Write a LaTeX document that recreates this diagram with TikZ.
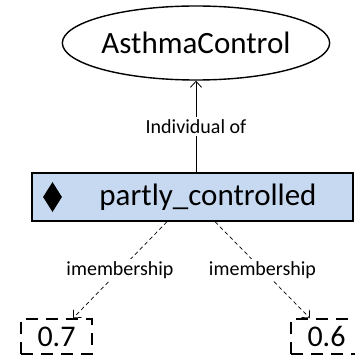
\documentclass[tikz,border=0pt]{standalone}
\usepackage{fontspec}
\setmainfont{Carlito}
\usetikzlibrary{arrows.meta,shapes.geometric,calc}
\definecolor{boxblue}{RGB}{198,217,241}
\tikzset{
  classnode/.style={draw, ellipse, line width=1.4pt, minimum width=220pt, minimum height=74pt, inner sep=0pt, font=\fontsize{31}{31}\selectfont},
  indivbox/.style={draw, fill=boxblue, line width=1.4pt, minimum width=321pt, minimum height=48pt, inner sep=0pt},
  bigtext/.style={inner sep=0pt, font=\fontsize{31}{31}\selectfont},
  valuebox/.style={draw, dash pattern=on 12pt off 8pt, line width=1.5pt, minimum width=71pt, minimum height=35pt, inner sep=0pt, font=\fontsize{30}{30}\selectfont},
  edgelabel/.style={fill=white, inner sep=2pt, font=\fontsize{20}{20}\selectfont},
  typearrow/.style={line width=0.8pt, -{Straight Barb[length=6pt,width=11pt]}},
  memberarrow/.style={line width=0.7pt, dash pattern=on 4pt off 3pt, -{Straight Barb[length=6pt,width=11pt]}}
}
\begin{document}
\begin{tikzpicture}[x=1pt,y=-1pt]
  \useasboundingbox (0,0) rectangle (354,358);
  % class and individual
  \node[classnode] (ac) at (196,43) {AsthmaControl};
  \node[indivbox] (pc) at (192.5,197) {};
  \node[bigtext] (pctext) at (208,197) {partly\_controlled};
  \node[diamond, fill=black, minimum width=19pt, minimum height=30pt, inner sep=0pt] (mark) at (52.5,197) {};
  % membership values
  \node[valuebox] (v1) at (56.5,336.5) {0.7};
  \node[valuebox] (v2) at (326.5,336.5) {0.6};
  % connectors
  \draw[typearrow] (pc.north -| ac.south) -- (ac.south)
    node[edgelabel, midway] (lbltype) {Individual of};
  \draw[memberarrow] ([xshift=-25.5pt]pc.south) -- ([xshift=16.5pt]v1.north)
    node[edgelabel, midway] (lblm1) {imembership};
  \draw[memberarrow] ([xshift=22.5pt]pc.south) -- ([xshift=-16.5pt]v2.north)
    node[edgelabel, midway] (lblm2) {imembership};
\end{tikzpicture}
\end{document}
